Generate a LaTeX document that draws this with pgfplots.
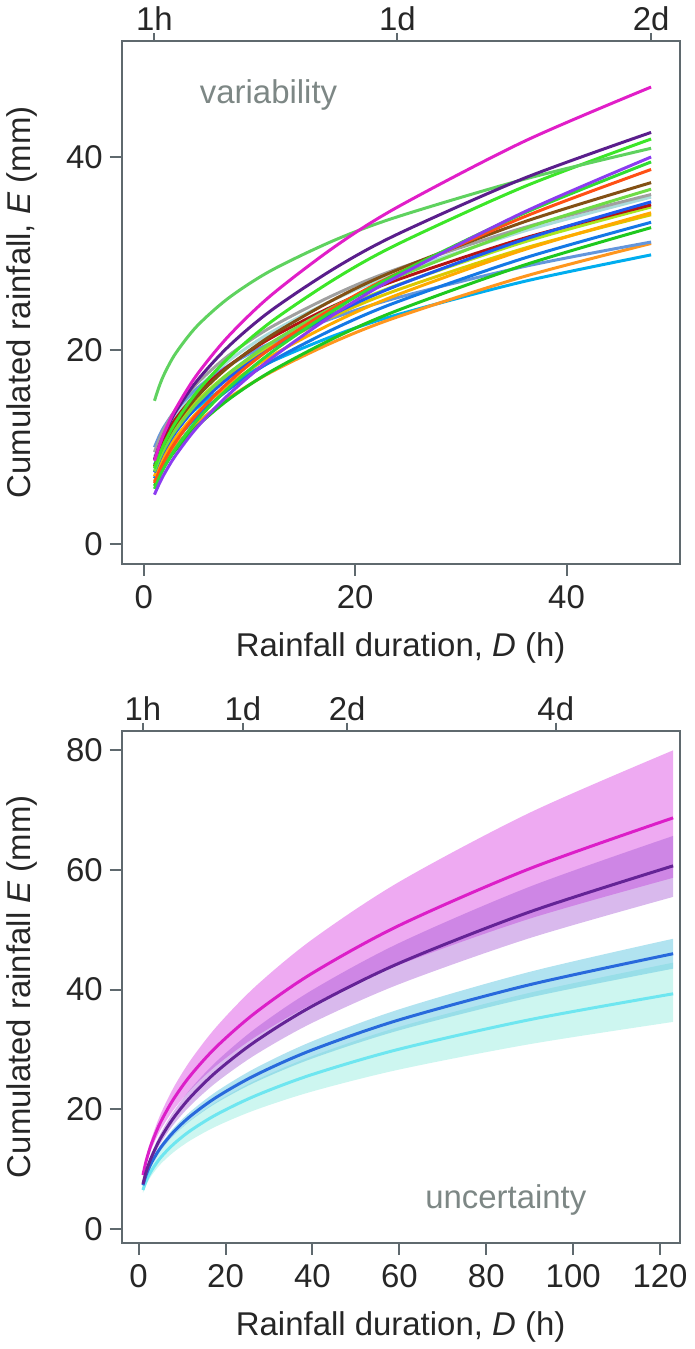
\documentclass[border=0pt]{standalone}
\usepackage{fontspec}
\setmainfont{Liberation Sans}
\usepackage{pgfplots}
\usepackage{pgfplotstable}
\pgfplotsset{compat=1.18}
\usepgfplotslibrary{fillbetween}

\newcommand\fs{\fontsize{16.5}{19.8}\selectfont}
\definecolor{axcol}{RGB}{95,105,110}
\definecolor{txtgray}{RGB}{125,135,133}
% top panel colours
\definecolor{cmag}{RGB}{225,30,200}
\definecolor{cdpur}{RGB}{90,30,140}
\definecolor{cgrA}{RGB}{60,230,40}
\definecolor{cout}{RGB}{95,210,95}
\definecolor{cvio}{RGB}{140,60,240}
\definecolor{cgrB}{RGB}{50,220,50}
\definecolor{cored}{RGB}{255,80,20}
\definecolor{cbrn}{RGB}{130,80,20}
\definecolor{cgrC}{RGB}{110,220,70}
\definecolor{cgry}{RGB}{160,160,160}
\definecolor{cbluA}{RGB}{30,90,240}
\definecolor{cdred}{RGB}{180,20,20}
\definecolor{corA}{RGB}{255,170,0}
\definecolor{cgold}{RGB}{220,200,0}
\definecolor{cbluB}{RGB}{20,120,230}
\definecolor{cgrD}{RGB}{30,200,30}
\definecolor{cperi}{RGB}{100,150,220}
\definecolor{corB}{RGB}{255,150,30}
\definecolor{ccyan}{RGB}{110,235,240}
\definecolor{cteal}{RGB}{170,220,220}
\definecolor{cygr}{RGB}{170,230,30}
% bottom panel colours
\definecolor{bmag}{RGB}{220,30,200}
\definecolor{bpur}{RGB}{100,35,150}
\definecolor{bblu}{RGB}{40,105,220}
\definecolor{bcya}{RGB}{110,230,240}
\definecolor{fpink}{RGB}{238,170,242}
\definecolor{fpur}{RGB}{160,80,210}
\definecolor{fblu}{RGB}{100,200,225}
\definecolor{fcya}{RGB}{205,246,240}

\pgfplotstableread{
D    mag   dpur  grA   out   vio   grB   ored  brn   grC   gry   bluA  dred  orA   gold  bluB  grD   peri  orB   cya   teal  ygr
1    8.6   8.7   7.8   14.8  5.1   5.7   6.3   8.0   7.5   9.5   7.4   8.7   7.0   8.0   6.8   6.0   10.0  6.5   8.2   9.0   8.0
1.5  10.28 10.27 9.30  16.44 6.33  6.98  7.62  9.40  8.86  10.93 8.72  10.07 8.27  9.31  8.03  7.17  11.27 7.66  9.39  10.40 9.33
2    11.67 11.56 10.54 17.72 7.37  8.06  8.72  10.54 9.97  12.07 9.79  11.17 9.30  10.37 9.04  8.13  12.26 8.60  10.34 11.53 10.41
3    13.95 13.65 12.57 19.69 9.15  9.87  10.55 12.39 11.77 13.88 11.53 12.92 10.98 12.07 10.67 9.71  13.81 10.13 11.84 13.32 12.15
5    17.46 16.83 15.68 22.49 12.01 12.75 13.40 15.18 14.51 16.55 14.18 15.53 13.54 14.60 13.15 12.14 16.05 12.45 14.04 15.99 14.75
8    21.47 20.41 19.23 25.41 15.42 16.12 16.71 18.30 17.59 19.47 17.14 18.39 16.42 17.41 15.95 14.92 18.43 15.06 16.42 18.91 17.63
12   25.67 24.10 22.93 28.24 19.13 19.75 20.21 21.51 20.77 22.39 20.19 21.28 19.39 20.26 18.84 17.82 20.76 17.74 18.81 21.85 20.57
18   30.68 28.46 27.34 31.38 23.74 24.18 24.44 25.28 24.53 25.75 23.79 24.63 22.90 23.58 22.24 21.28 23.39 20.90 21.53 25.26 23.99
24   34.82 32.02 30.98 33.82 27.65 27.92 27.97 28.34 27.60 28.44 26.72 27.31 25.76 26.26 25.03 24.14 25.46 23.47 23.70 27.99 26.77
36   41.62 37.81 36.94 37.70 34.32 34.20 33.82 33.30 32.59 32.71 31.48 31.61 30.42 30.56 29.55 28.83 28.68 27.65 27.14 32.35 31.22
48   47.23 42.54 41.86 40.90 40.00 39.49 38.71 37.35 36.67 36.12 35.36 35.05 34.23 34.03 33.25 32.70 31.21 31.06 29.88 35.85 34.83
}\toptable

\pgfplotstableread{
D    mag   magU  magL  pur   purU  purL  blu   bluU  bluL  cya   cyaU  cyaL
1    9.00  9.30  8.70  7.50  7.80  7.20  7.30  7.50  7.10  6.50  7.00  6.00
1.5  10.68 11.15 10.22 8.95  9.33  8.55  8.52  8.78  8.27  7.56  8.18  6.95
2    12.06 12.68 11.45 10.14 10.60 9.66  9.52  9.81  9.22  8.42  9.14  7.72
3    14.32 15.20 13.45 12.09 12.69 11.48 11.11 11.49 10.74 9.80  10.68 8.95
5    17.76 19.10 16.47 15.09 15.91 14.26 13.51 14.00 13.02 11.87 12.99 10.78
8    21.66 23.57 19.85 18.51 19.59 17.40 16.17 16.80 15.54 14.14 15.57 12.79
12   25.71 28.25 23.32 22.08 23.44 20.67 18.89 19.66 18.11 16.46 18.19 14.83
18   30.51 33.87 27.38 26.33 28.05 24.55 22.05 23.01 21.09 19.15 21.26 17.19
27   36.21 40.61 32.16 31.40 33.57 29.16 25.75 26.93 24.57 22.29 24.85 19.92
40   42.76 48.41 37.59 37.25 39.95 34.46 29.93 31.37 28.49 25.82 28.90 22.98
60   50.74 58.03 44.15 44.43 47.80 40.92 34.95 36.71 33.20 30.05 33.78 26.64
90   60.22 69.57 51.86 52.99 57.20 48.61 40.82 42.97 38.68 34.97 39.47 30.88
123  68.71 80.00 58.69 60.69 65.69 55.50 46.00 48.50 43.50 39.30 44.51 34.60
}\bottable

\pgfplotsset{
  panel/.style={
    scale only axis, width=279.5pt,
    axis line style={-, axcol, line width=1pt},
    tick style={axcol, line width=1pt},
    tick align=outside, major tick length=6pt,
    every tick label/.append style={font=\fs, text=black!85},
    label style={font=\fs, text=black!85},
    ylabel shift=7.5pt, xticklabel shift=1.5pt, xlabel shift=5pt,
    /pgf/number format/assume math mode=true,
  },
  toplabels/.style={
    axis x line*=top, axis y line=none, major tick length=4pt,
    x axis line style={-}, xticklabel style={yshift=-4pt},
  },
  curve/.style={smooth, line width=1.5pt, no markers},
}

\begin{document}
\begin{tikzpicture}
% ---------- top panel ----------
\begin{axis}[panel, name=top, at={(0,0)}, anchor=south west, height=262pt,
  xmin=-2.1, xmax=50.7, ymin=-2.06, ymax=52,
  xtick={0,20,40}, ytick={0,20,40}, xtick pos=bottom, ytick pos=left,
  xlabel={Rainfall duration, \textit{D} (h)},
  ylabel={Cumulated rainfall, \textit{E} (mm)}]
\foreach \c/\k in {cteal/teal,cygr/ygr,cyan/cya,corB/orB,cperi/peri,cgrD/grD,cbluB/bluB,cgold/gold,corA/orA,cdred/dred,cbluA/bluA,cgry/gry,cgrC/grC,cbrn/brn,cored/ored,cgrB/grB,cvio/vio,cgrA/grA}{
  \edef\tmp{\noexpand\addplot[curve, color=\c] table[x=D, y=\k] {\noexpand\toptable};}
  \tmp
}
\addplot[curve, color=cout] table[x=D, y=out] {\toptable};
\addplot[curve, color=cdpur] table[x=D, y=dpur] {\toptable};
\addplot[curve, color=cmag] table[x=D, y=mag] {\toptable};
\node[font=\fs, text=txtgray] at (axis cs:11.8,46.4) {variability};
\end{axis}
\begin{axis}[panel, toplabels, at={(0,0)}, anchor=south west, height=262pt,
  xmin=-2.1, xmax=50.7, ymin=-2.06, ymax=52,
  xtick={1,24,48}, xticklabels={1h,1d,2d}]
\addplot[draw=none] coordinates {(1,0)};
\end{axis}
\path (top.north west) -- ++(0,19.5pt);
% ---------- bottom panel ----------
\begin{axis}[panel, name=bot, at={(0,-340pt)}, anchor=south west, height=256.5pt,
  xmin=-3.9, xmax=124.5, ymin=-2.3, ymax=83.3,
  xtick={0,20,...,120}, ytick={0,20,...,80}, xtick pos=bottom, ytick pos=left,
  xlabel={Rainfall duration, \textit{D} (h)},
  ylabel={Cumulated rainfall \textit{E} (mm)}]
\addplot[smooth, draw=none, name path=cu] table[x=D, y=cyaU] {\bottable};
\addplot[smooth, draw=none, name path=cl] table[x=D, y=cyaL] {\bottable};
\addplot[fcya] fill between[of=cu and cl];
\addplot[smooth, draw=none, name path=bu] table[x=D, y=bluU] {\bottable};
\addplot[smooth, draw=none, name path=bl] table[x=D, y=bluL] {\bottable};
\addplot[fblu, fill opacity=0.5] fill between[of=bu and bl];
\addplot[smooth, draw=none, name path=mu] table[x=D, y=magU] {\bottable};
\addplot[smooth, draw=none, name path=ml] table[x=D, y=magL] {\bottable};
\addplot[fpink] fill between[of=mu and ml];
\addplot[smooth, draw=none, name path=pu] table[x=D, y=purU] {\bottable};
\addplot[smooth, draw=none, name path=pl] table[x=D, y=purL] {\bottable};
\addplot[fpur, fill opacity=0.4] fill between[of=pu and pl];
\addplot[curve, color=bcya] table[x=D, y=cya] {\bottable};
\addplot[curve, color=bblu] table[x=D, y=blu] {\bottable};
\addplot[curve, color=bmag] table[x=D, y=mag] {\bottable};
\addplot[curve, color=bpur] table[x=D, y=pur] {\bottable};
\node[font=\fs, text=txtgray] at (axis cs:84.5,4.8) {uncertainty};
\end{axis}
\begin{axis}[panel, toplabels, at={(0,-340pt)}, anchor=south west, height=256.5pt,
  xmin=-3.9, xmax=124.5, ymin=-2.3, ymax=83.3,
  xtick={1,24,48,96}, xticklabels={1h,1d,2d,4d}]
\addplot[draw=none] coordinates {(1,0)};
\end{axis}
\end{tikzpicture}
\end{document}
